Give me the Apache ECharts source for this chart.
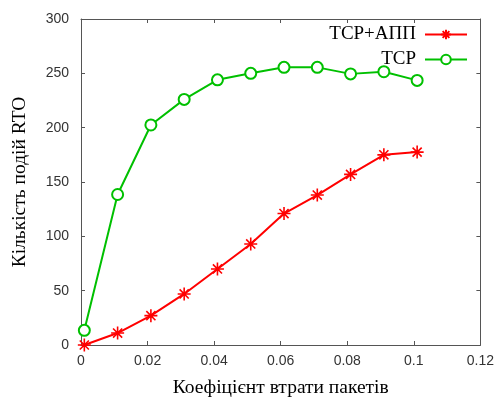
<!DOCTYPE html>
<html><head><meta charset="utf-8">
<script src="https://cdn.jsdelivr.net/npm/echarts@6/dist/echarts.min.js"></script>
<style>html,body{margin:0;padding:0;background:#fff}#c{width:497px;height:403px}</style>
</head><body><div id="c"></div>
<script>
const lossRate = [0.001, 0.011, 0.021, 0.031, 0.041, 0.051, 0.061, 0.071, 0.081, 0.091, 0.101];
const tcpApp = [0, 11, 27, 47, 70, 93, 121, 138, 157, 175, 177.5];
const tcp = [13.5, 138.5, 202.5, 226, 244, 250, 255.5, 255.5, 249.5, 251.5, 243.5];
const seriesNames = ['TCP+АПП', 'TCP'];
const xTitle = 'Коефіцієнт втрати пакетів';
const yTitle = 'Кількість подій RTO';

const asterisk = 'path://M0,5L10,5M5,0L5,10M1.5,1.5L8.5,8.5M8.5,1.5L1.5,8.5';
const axisCol = '#555';
const chart = echarts.init(document.getElementById('c'), null, {renderer: 'canvas'});
const boxAxis = (extra) => Object.assign({
  type: 'value', min: 0, splitLine: {show: false},
  axisLine: {show: true, onZero: false, lineStyle: {color: axisCol, width: 1}},
  axisTick: {show: true, inside: true, length: 4, lineStyle: {color: axisCol}},
}, extra);
chart.setOption({
  animation: false,
  backgroundColor: '#fff',
  grid: {left: 81, right: 15, top: 19, bottom: 54, containLabel: false},
  legend: {
    right: 24, top: 20, orient: 'vertical', align: 'right',
    itemWidth: 42, itemHeight: 12, itemGap: 6,
    textStyle: {fontFamily: 'Liberation Serif', fontSize: 19, color: '#000', padding: [0, 4, 0, 0]},
    data: seriesNames
  },
  xAxis: [
    boxAxis({position: 'bottom', max: 0.12, interval: 0.02,
      name: xTitle, nameLocation: 'middle', nameGap: 33,
      nameTextStyle: {fontFamily: 'Liberation Serif', fontSize: 19.5, color: '#000'},
      axisLabel: {fontFamily: 'Liberation Sans', fontSize: 14, color: '#333', margin: 9}}),
    boxAxis({position: 'top', max: 0.12, interval: 0.02, axisLabel: {show: false}})
  ],
  yAxis: [
    boxAxis({position: 'left', max: 300, interval: 50,
      name: yTitle, nameLocation: 'middle', nameGap: 51, nameRotate: 90,
      nameTextStyle: {fontFamily: 'Liberation Serif', fontSize: 19.5, color: '#000'},
      axisLabel: {fontFamily: 'Liberation Sans', fontSize: 14, color: '#333', margin: 12}}),
    boxAxis({position: 'right', max: 300, interval: 50, axisLabel: {show: false}})
  ],
  series: [
    {name: seriesNames[0], type: 'line', data: lossRate.map((x, i) => [x, tcpApp[i]]),
      symbol: asterisk, symbolSize: 13, showAllSymbol: true,
      lineStyle: {color: '#ff0000', width: 2},
      itemStyle: {color: 'none', borderColor: '#ff0000', borderWidth: 1.6}},
    {name: seriesNames[1], type: 'line', data: lossRate.map((x, i) => [x, tcp[i]]),
      symbol: 'emptyCircle', symbolSize: 11, showAllSymbol: true,
      lineStyle: {color: '#00c000', width: 2},
      itemStyle: {color: '#00c000', borderColor: '#00c000', borderWidth: 2}}
  ]
});
</script></body></html>
